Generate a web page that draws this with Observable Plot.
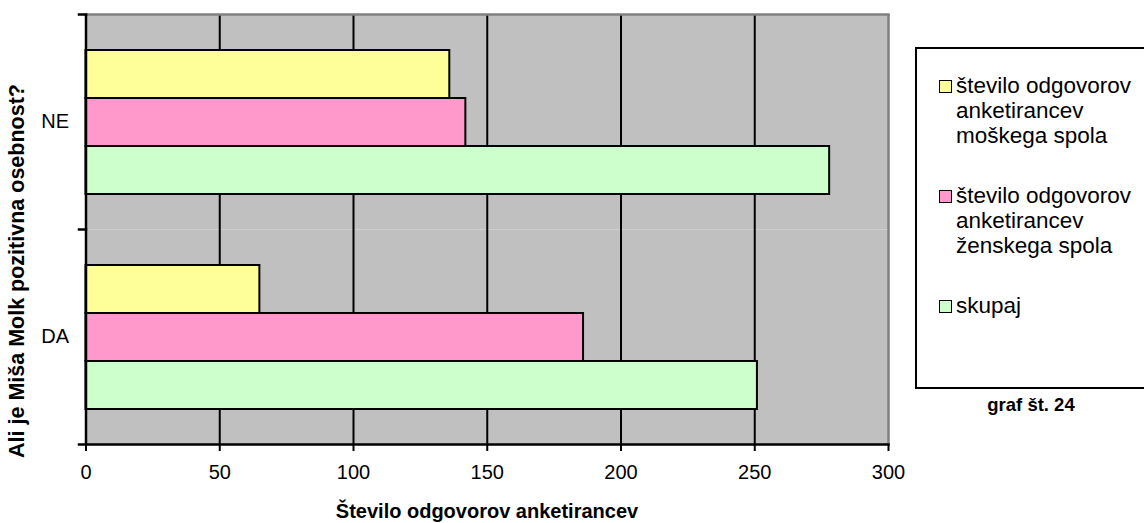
<!DOCTYPE html>
<html><head><meta charset="utf-8">
<script src="https://cdn.jsdelivr.net/npm/d3@7"></script>
<script src="https://cdn.jsdelivr.net/npm/@observablehq/plot@0.6"></script>
<style>
body{margin:0;background:#fff;font-family:"Liberation Sans",Arial,sans-serif;color:#000;}
#wrap{position:relative;width:1144px;height:523px;overflow:hidden;}
#wrap svg{position:absolute;left:0;top:0;}
.ytitle{position:absolute;left:17px;top:271px;transform:translate(-50%,-50%) rotate(-90deg);white-space:nowrap;font-weight:bold;font-size:21.5px;}
.xtitle{position:absolute;left:487px;top:511px;transform:translate(-50%,-50%);white-space:nowrap;font-weight:bold;font-size:20px;}
.legend{position:absolute;left:915px;top:47px;width:240px;height:342px;border:2px solid #000;box-sizing:border-box;background:#fff;}
.item{position:absolute;left:0;width:240px;}
.sw{position:absolute;left:22px;width:13px;height:13px;border:1.5px solid #000;box-sizing:border-box;}
.lt{position:absolute;left:39px;width:190px;font-size:22.5px;line-height:25px;}
.caption{position:absolute;left:1031px;top:405px;transform:translate(-50%,-50%);white-space:nowrap;font-weight:bold;font-size:18.5px;}
</style></head><body><div id="wrap"></div>
<script>
const categories = ["NE", "DA"];
const seriesNames = [
  "število odgovorov anketirancev moškega spola",
  "število odgovorov anketirancev ženskega spola",
  "skupaj"
];
const maleValues = [136, 65];
const femaleValues = [142, 186];
const totalValues = [278, 251];
const xTicks = [0, 50, 100, 150, 200, 250, 300];
const seriesColors = ["#FFFF99", "#FF99CC", "#CCFFCC"];
const xTitle = "Število odgovorov anketirancev";
const yTitle = "Ali je Miša Molk pozitivna osebnost?";
const captionText = "graf št. 24";

const seriesValues = [maleValues, femaleValues, totalValues];
const rows = categories.flatMap((c, i) =>
  seriesNames.map((s, j) => ({cat: c, series: s, value: seriesValues[j][i]})));

const W = 1144, H = 523;
const mL = 85.5, mR = W - 888, mT = 13, mB = H - 444;
const plotW = W - mL - mR;

const chart = Plot.plot({
  width: W, height: H,
  marginLeft: mL, marginRight: mR, marginTop: mT, marginBottom: mB,
  style: {fontFamily: '"Liberation Sans", Arial, sans-serif', fontSize: "20px", color: "#000", background: "transparent", overflow: "visible"},
  x: {domain: [0, 300], ticks: xTicks},
  y: {domain: seriesNames, axis: null, paddingInner: 0, paddingOuter: 0.73},
  fy: {domain: categories, padding: 0, label: null},
  color: {domain: seriesNames, range: seriesColors},
  marks: [
    Plot.frame({fill: "#c0c0c0", stroke: null}),
    Plot.ruleX(xTicks.slice(1, -1), {stroke: "#000", strokeWidth: 2}),
    Plot.barX(rows, {x: "value", y: "series", fy: "cat", fill: "series", stroke: "#000", strokeWidth: 2}),
    Plot.ruleX([300], {stroke: "#808080", strokeWidth: 2.5}),
    Plot.frame({anchor: "top", stroke: "#808080", strokeWidth: 2.5, facetAnchor: "top"}),
    Plot.ruleX([0], {stroke: "#000", strokeWidth: 2.5}),
    Plot.frame({anchor: "top", stroke: "#000", strokeWidth: 2.5, insetLeft: -7, insetRight: plotW}),
    Plot.frame({anchor: "bottom", stroke: "#000", strokeWidth: 2.5, insetLeft: -7, facetAnchor: "bottom"}),
    Plot.axisX({anchor: "bottom", ticks: xTicks, tickSize: 7, tickPadding: 13, strokeWidth: 2, fontSize: 20, label: null}),
    Plot.axisFy({anchor: "left", tickSize: 0, tickPadding: 17, fontSize: 20, label: null})
  ]
});

const wrap = document.getElementById("wrap");
wrap.appendChild(chart);

const yt = document.createElement("div"); yt.className = "ytitle"; yt.textContent = yTitle; wrap.appendChild(yt);
const xt = document.createElement("div"); xt.className = "xtitle"; xt.textContent = xTitle; wrap.appendChild(xt);

const legend = document.createElement("div"); legend.className = "legend";
const itemTops = [24, 134, 244];
seriesNames.forEach((s, i) => {
  const item = document.createElement("div"); item.className = "item"; item.style.top = itemTops[i] + "px";
  const sw = document.createElement("div"); sw.className = "sw"; sw.style.background = seriesColors[i]; sw.style.top = "7px";
  const lt = document.createElement("div"); lt.className = "lt"; lt.style.top = "0px"; lt.textContent = s;
  item.appendChild(sw); item.appendChild(lt); legend.appendChild(item);
});
wrap.appendChild(legend);
const cap = document.createElement("div"); cap.className = "caption"; cap.textContent = captionText; wrap.appendChild(cap);
</script>
</body></html>
